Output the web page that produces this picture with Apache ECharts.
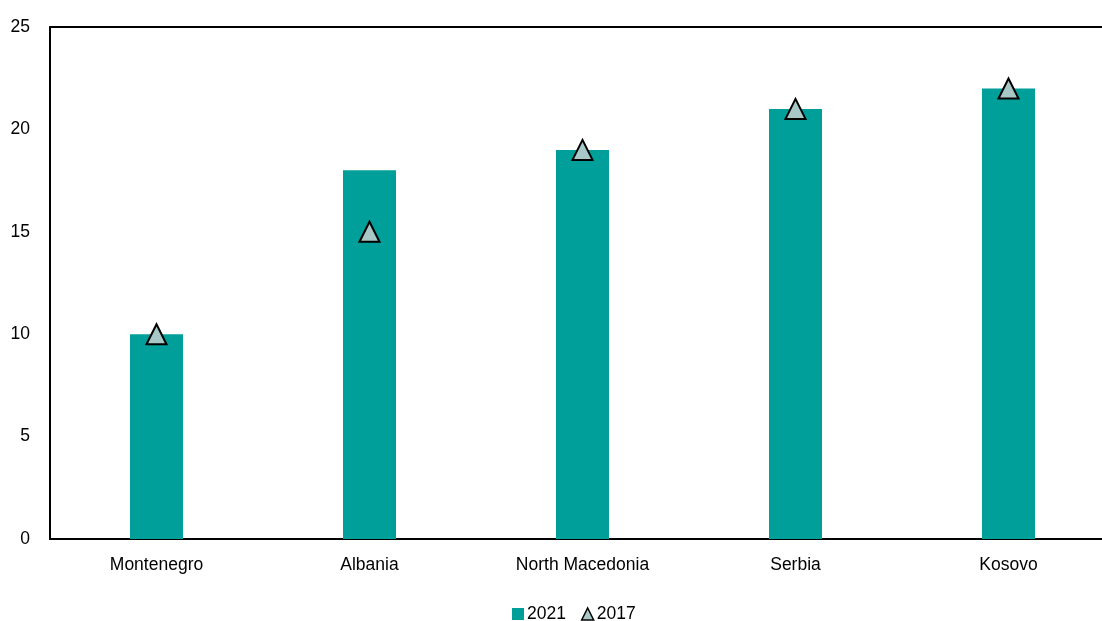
<!DOCTYPE html>
<html><head><meta charset="utf-8">
<script src="https://cdn.jsdelivr.net/npm/echarts@6/dist/echarts.min.js"></script>
<style>html,body{margin:0;padding:0;background:#fff}#c{width:1102px;height:621px}</style>
</head><body><div id="c"></div>
<script>
var categories = ['Montenegro', 'Albania', 'North Macedonia', 'Serbia', 'Kosovo'];
var values2021 = [10, 18, 19, 21, 22];
var values2017 = [10, 15, 19, 21, 22];
var yTicks = [0, 5, 10, 15, 20, 25];

var chart = echarts.init(document.getElementById('c'));
var font = '"Liberation Sans", Arial, sans-serif';
chart.setOption({
  animation: false,
  grid: { left: 50, width: 1065, top: 27, bottom: 82, containLabel: false, outerBoundsMode: 'none' },
  legend: {
    top: 605, left: 512, padding: 0, itemGap: 15, itemWidth: 12, itemHeight: 12,
    textStyle: { fontFamily: font, fontSize: 17.5, color: '#000', padding: [0, 0, 0, -2] },
    data: [
      { name: '2021', icon: 'rect' },
      { name: '2017', icon: 'triangle', itemStyle: { color: '#a8c8c8', borderColor: '#000', borderWidth: 1.5 } }
    ]
  },
  xAxis: [{
    type: 'category', data: categories,
    axisLine: { lineStyle: { color: '#000', width: 2 } },
    axisTick: { show: false },
    axisLabel: { fontFamily: font, fontSize: 17.5, color: '#000', margin: 17 }
  }, {
    type: 'category', data: categories, position: 'top',
    axisLine: { lineStyle: { color: '#000', width: 2 } },
    axisTick: { show: false }, axisLabel: { show: false }
  }],
  yAxis: {
    type: 'value', min: yTicks[0], max: yTicks[yTicks.length - 1], interval: 5,
    axisLine: { show: true, lineStyle: { color: '#000', width: 2 } },
    axisTick: { show: false },
    splitLine: { show: false },
    axisLabel: { fontFamily: font, fontSize: 17.5, color: '#000', margin: 20 }
  },
  series: [{
    name: '2021', type: 'bar', data: values2021, barWidth: 53,
    itemStyle: { color: '#009f9a' }
  }, {
    name: '2017', type: 'scatter', data: values2017, symbol: 'triangle', symbolSize: [20, 20],
    itemStyle: { color: '#a8c8c8', borderColor: '#000', borderWidth: 2, opacity: 1 }, z: 5
  }]
});
</script></body></html>
